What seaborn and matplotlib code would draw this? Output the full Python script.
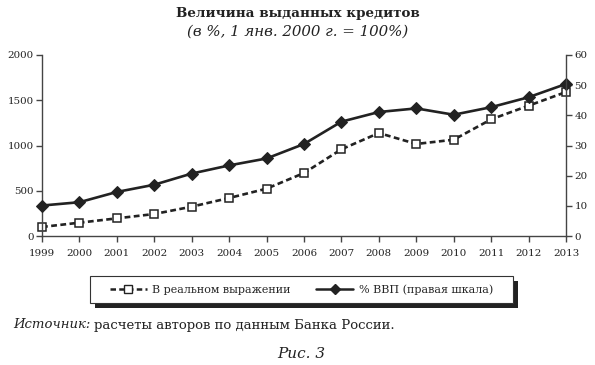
import matplotlib
matplotlib.use("Agg")
import matplotlib.pyplot as plt
from matplotlib.patches import Rectangle
from matplotlib.lines import Line2D
import seaborn as sns
import pandas as pd

years = list(range(1999, 2014))
real_credit = [100, 147, 195, 243, 324, 420, 523, 696, 958, 1138, 1017, 1064, 1289, 1440, 1591]
credit_gdp = [10.1, 11.2, 14.6, 17.0, 20.7, 23.4, 25.7, 30.5, 37.9, 41.1, 42.3, 40.2, 42.7, 46.0, 50.4]

label_real = "В реальном выражении"
label_gdp = "% ВВП (правая шкала)"

sns.set_style("ticks")
plt.rcParams["font.family"] = ["DejaVu Serif", "Liberation Serif"]
ink = "#222222"
W, H = 595, 365

df = pd.DataFrame({"year": years, "real": real_credit, "gdp": credit_gdp})

fig = plt.figure(figsize=(5.95, 3.65), dpi=100)
ax = fig.add_axes([42 / W, 1 - 236 / H, 524 / W, 181 / H])
ax2 = ax.twinx()

sns.lineplot(data=df, x="year", y="real", ax=ax, color=ink, lw=1.9,
             linestyle=(0, (2.2, 1.3)), marker="s", markersize=6.3,
             markerfacecolor="white", markeredgecolor=ink, markeredgewidth=1.1,
             clip_on=False)
sns.lineplot(data=df, x="year", y="gdp", ax=ax2, color=ink, lw=1.9,
             marker="D", markersize=6.2, markerfacecolor=ink,
             markeredgecolor=ink, clip_on=False)

ax.set_xlim(1999, 2013)
ax.set_ylim(0, 2000)
ax2.set_ylim(0, 60)
ax.set_xticks(years)
ax.set_yticks([0, 500, 1000, 1500, 2000])
ax2.set_yticks([0, 10, 20, 30, 40, 50, 60])
ax.set_xlabel("")
ax.set_ylabel("")
ax2.set_ylabel("")

for a in (ax, ax2):
    a.spines["top"].set_visible(False)
    for s in a.spines.values():
        s.set_color("#444444")
        s.set_linewidth(1.0)
    a.tick_params(length=4, width=1.0, color="#444444", labelsize=7.4,
                  labelcolor=ink, pad=2)
ax2.spines["left"].set_visible(False)
ax2.spines["bottom"].set_visible(False)
ax.spines["right"].set_visible(False)
ax.tick_params(axis="x", pad=5)

fig.text(298 / W, 1 - 14 / H, "Величина выданных кредитов", ha="center",
         va="center", fontsize=9.7, fontweight="bold", color=ink)
fig.text(298 / W, 1 - 32 / H, "(в %, 1 янв. 2000 г. = 100%)", ha="center",
         va="center", fontsize=10.8, style="italic", color=ink)

# legend box with offset shadow, drawn at fixed place
bx0, bx1, by0, by1 = 90, 513, 276, 303
fig.patches.append(Rectangle(((bx0 + 5) / W, 1 - (by1 + 5) / H), (bx1 - bx0) / W,
                             (by1 - by0) / H, transform=fig.transFigure,
                             facecolor=ink, edgecolor="none", zorder=1))
fig.patches.append(Rectangle((bx0 / W, 1 - by1 / H), (bx1 - bx0) / W,
                             (by1 - by0) / H, transform=fig.transFigure,
                             facecolor="white", edgecolor="#333333", lw=0.8,
                             zorder=2))

handles = [
    Line2D([], [], color=ink, lw=1.8, linestyle=(0, (2.2, 1.3)), marker="s",
           markersize=5.5, markerfacecolor="white", markeredgecolor=ink),
    Line2D([], [], color=ink, lw=1.8, marker="D", markersize=5,
           markerfacecolor=ink, markeredgecolor=ink),
]
leg = fig.legend(handles, [label_real, label_gdp], ncol=2,
                 loc="center", bbox_to_anchor=((bx0 + bx1) / 2 / W, 1 - (by0 + by1) / 2 / H),
                 frameon=False, fontsize=8, handlelength=3.3,
                 columnspacing=2.3, handletextpad=0.5)
leg.set_zorder(5)

src_y = 1 - 325 / H
t1 = fig.text(13 / W, src_y, "Источник:", ha="left", va="center",
              fontsize=9.5, style="italic", color=ink)
fig.canvas.draw()
tb = t1.get_window_extent()
fig.text((tb.x1 + 4) / fig.bbox.width, src_y,
         "расчеты авторов по данным Банка России.", ha="left", va="center",
         fontsize=9.5, color=ink)
fig.text(301 / W, 1 - 354 / H, "Рис. 3", ha="center", va="center",
         fontsize=11, style="italic", color=ink)

fig.savefig("out.png", dpi=100)
